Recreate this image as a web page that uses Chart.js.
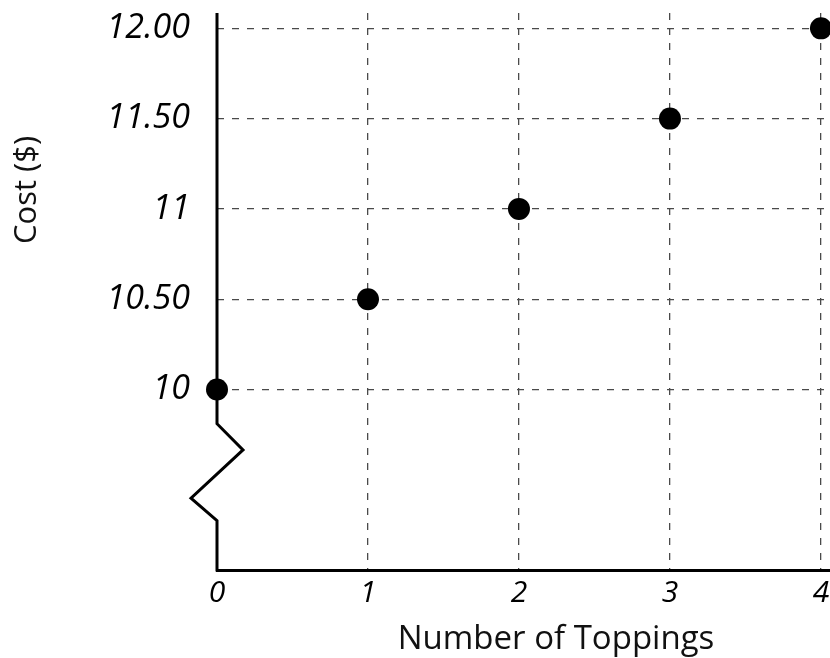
<!DOCTYPE html>
<html>
<head>
<meta charset="utf-8">
<script src="https://cdn.jsdelivr.net/npm/chart.js@4/dist/chart.umd.min.js"></script>
<style>
html,body{margin:0;padding:0;background:#fff;}
#wrap{width:830px;height:658px;position:relative;}
</style>
</head>
<body>
<div id="wrap"><canvas id="c" width="830" height="658"></canvas></div>
<script>
// ---- data ----
const toppings = [0, 1, 2, 3, 4];
const costs = [10, 10.5, 11, 11.5, 12];
const xTickValues = [0, 1, 2, 3, 4];
const xTickLabels = ['0', '1', '2', '3', '4'];
const yTickValues = [10, 10.5, 11, 11.5, 12];
const yTickLabels = ['10', '10.50', '11', '11.50', '12.00'];
const xTitle = 'Number of Toppings';
const yTitle = 'Cost ($)';
// axis break (zigzag) corner values on the y scale
const breakValues = [9.81, 9.665, 9.398, 9.273];

const FONT = '"Open Sans", "Noto Sans", sans-serif';

const axisPlugin = {
  id: 'axisPlugin',
  beforeDatasetsDraw(chart) {
    const ctx = chart.ctx;
    const ys = chart.scales.y;
    const xs = chart.scales.x;
    const area = chart.chartArea;
    const x0 = xs.getPixelForValue(0);
    const b = breakValues.map(v => ys.getPixelForValue(v));
    ctx.save();
    ctx.strokeStyle = '#000';
    ctx.lineWidth = 3;
    ctx.lineJoin = 'miter';
    ctx.beginPath();
    ctx.moveTo(x0, area.top);
    ctx.lineTo(x0, b[0]);
    ctx.lineTo(x0 + 26, b[1]);
    ctx.lineTo(x0 - 26, b[2]);
    ctx.lineTo(x0, b[3]);
    ctx.lineTo(x0, area.bottom + 1.5);
    ctx.stroke();
    ctx.restore();
  },
  afterDraw(chart) {
    const ctx = chart.ctx;
    ctx.save();
    ctx.fillStyle = '#111';
    ctx.font = '33px ' + FONT;
    ctx.textAlign = 'center';
    ctx.textBaseline = 'alphabetic';
    ctx.fillText(xTitle, 556, 649);
    ctx.translate(36, 190);
    ctx.rotate(-Math.PI / 2);
    ctx.font = '31px ' + FONT;
    ctx.fillText(yTitle, 0, 0);
    ctx.restore();
  }
};

new Chart(document.getElementById('c'), {
  type: 'scatter',
  data: {
    datasets: [{
      data: toppings.map((t, i) => ({x: t, y: costs[i]})),
      backgroundColor: '#000',
      borderColor: '#000',
      pointRadius: 11,
      pointHoverRadius: 11,
      pointBorderWidth: 0,
      clip: false
    }]
  },
  options: {
    responsive: false,
    animation: false,
    events: [],
    layout: {autoPadding: false, padding: {top: 13, left: 0, right: 0, bottom: 0}},
    plugins: {legend: {display: false}, tooltip: {enabled: false}},
    scales: {
      x: {
        type: 'linear',
        min: 0,
        max: 4.06,
        afterBuildTicks: s => { s.ticks = xTickValues.map(v => ({value: v})); },
        afterFit: s => { s.height = 88; s.paddingLeft = 0; s.paddingRight = 0; s.paddingTop = 0; s.paddingBottom = 0; },
        ticks: {
          callback: (v) => xTickLabels[xTickValues.indexOf(v)],
          color: '#000',
          padding: 5,
          maxRotation: 0,
          autoSkip: false,
          font: {family: FONT, size: 30, style: 'italic'}
        },
        grid: {
          drawTicks: false,
          color: c => (c.tick && c.tick.value === 0) ? 'rgba(0,0,0,0)' : '#4a4a4a',
          lineWidth: 1.3
        },
        border: {display: true, color: '#000', width: 3, dash: [7, 8]}
      },
      y: {
        type: 'linear',
        min: 9,
        max: 12.085,
        afterBuildTicks: s => { s.ticks = yTickValues.map(v => ({value: v})); },
        afterFit: s => { s.width = 217; s.paddingLeft = 0; s.paddingRight = 0; s.paddingTop = 0; s.paddingBottom = 0; },
        ticks: {
          callback: (v) => yTickLabels[yTickValues.indexOf(v)],
          color: '#000',
          padding: 27,
          autoSkip: false,
          font: {family: FONT, size: 34, style: 'italic'}
        },
        grid: {drawTicks: false, color: '#4a4a4a', lineWidth: 1.3},
        border: {display: false, dash: [7, 8]}
      }
    }
  },
  plugins: [axisPlugin]
});
</script>
</body>
</html>
